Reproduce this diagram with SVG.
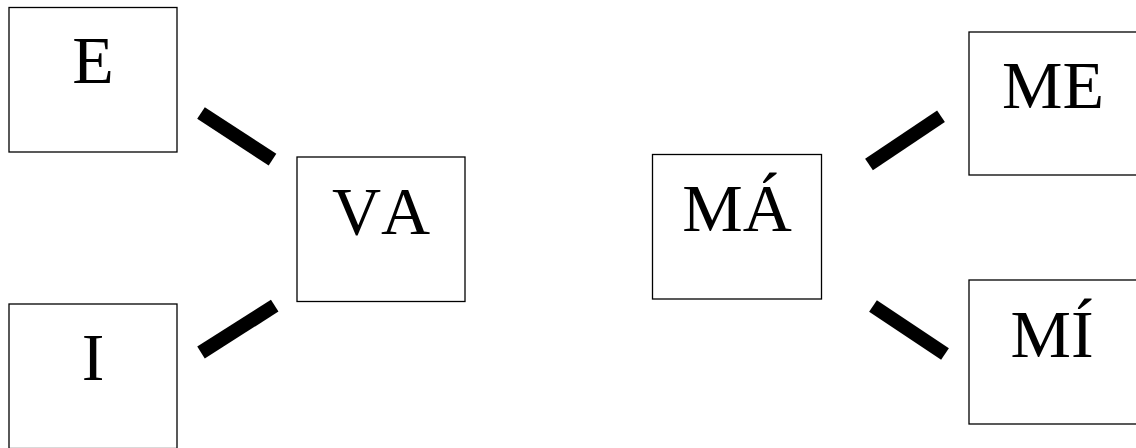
<svg xmlns="http://www.w3.org/2000/svg" width="1136" height="448" viewBox="0 0 1136 448">
<style>
.box{fill:#fff;stroke:#000;stroke-width:1.3}
.lbl{font-family:"Liberation Serif","Times New Roman",serif;font-size:68px;fill:#000;text-anchor:middle;font-kerning:none}
.conn{stroke:#000;stroke-width:14;stroke-linecap:butt;fill:none}
</style>
<rect width="1136" height="448" fill="#fff"/>
<g id="connectors">
<line class="conn" x1="201" y1="113" x2="272.5" y2="159.7"/>
<line class="conn" x1="201" y1="352.5" x2="274.7" y2="305.7"/>
<line class="conn" x1="869" y1="164.5" x2="941" y2="116.3"/>
<line class="conn" x1="873" y1="306" x2="945" y2="354"/>
</g>
<g id="node-E"><rect class="box" x="9" y="7.5" width="168" height="144.5"/><text class="lbl" x="93" y="83">E</text></g>
<g id="node-I"><rect class="box" x="9" y="304" width="168" height="144.5"/><text class="lbl" x="93" y="380">I</text></g>
<g id="node-VA"><rect class="box" x="297" y="157" width="168" height="144.5"/><text class="lbl" x="381" y="234">VA</text></g>
<g id="node-MA"><rect class="box" x="652.5" y="154.5" width="169" height="144.5"/><text class="lbl" x="737" y="230.5">MÁ</text></g>
<g id="node-ME"><rect class="box" x="969" y="32" width="168" height="143"/><text class="lbl" x="1053" y="107.5">ME</text></g>
<g id="node-MI"><rect class="box" x="969" y="280" width="168" height="144"/><text class="lbl" x="1052" y="356.5">MÍ</text></g>
</svg>
